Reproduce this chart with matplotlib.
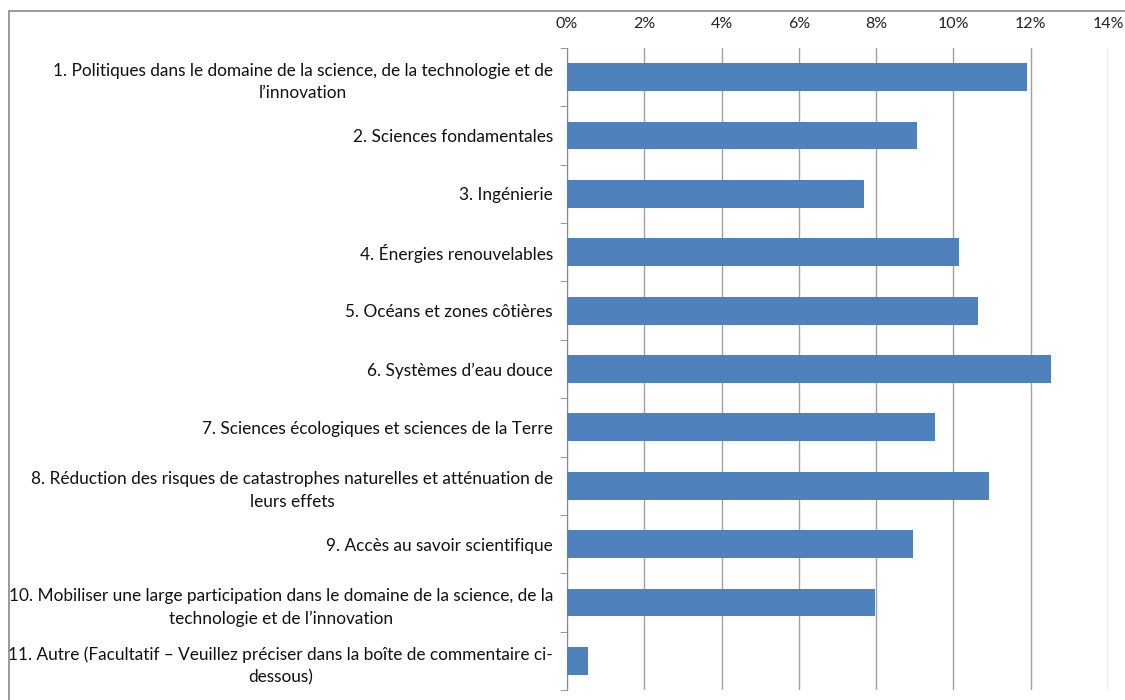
import matplotlib
matplotlib.use("Agg")
import matplotlib.pyplot as plt
import numpy as np
from matplotlib.ticker import FuncFormatter, FixedLocator
from matplotlib.patches import Rectangle

categories = [
    "1. Politiques dans le domaine de la science, de la technologie et de\nl\u2019innovation",
    "2. Sciences fondamentales",
    "3. Ingénierie",
    "4. Énergies renouvelables",
    "5. Océans et zones côtières",
    "6. Systèmes d\u2019eau douce",
    "7. Sciences écologiques et sciences de la Terre",
    "8. Réduction des risques de catastrophes naturelles et atténuation de\nleurs effets",
    "9. Accès au savoir scientifique",
    "10. Mobiliser une large participation dans le domaine de la science, de la\ntechnologie et de l\u2019innovation",
    "11. Autre (Facultatif \u2013 Veuillez préciser dans la boîte de commentaire ci-\ndessous)",
]
values = [11.9, 9.06, 7.68, 10.14, 10.63, 12.52, 9.52, 10.92, 8.95, 7.97, 0.54]
xticks = [0, 2, 4, 6, 8, 10, 12, 14]

plt.rcParams['font.family'] = ['Lato', 'DejaVu Sans']

fig = plt.figure(figsize=(11.25, 7), dpi=100)
ax = fig.add_axes([567/1125, 1-690/700, (1108-567)/1125, (690-48)/700])

n = len(categories)
y = np.arange(n)
ax.barh(y, values, height=0.476, color='#4F81BD', zorder=3)
ax.set_ylim(n-0.5, -0.5)
ax.set_xlim(0, 14)

ax.xaxis.tick_top()
ax.set_xticks(xticks)
ax.xaxis.set_major_formatter(FuncFormatter(lambda v, p: f"{int(v)}%"))
ax.tick_params(axis='x', length=0, pad=12, labelsize=11.5, labelcolor='#222222')
ax.grid(axis='x', color='#A0A0A0', linewidth=1, zorder=0)

ax.set_yticks(y)
ax.set_yticklabels(categories)
ax.yaxis.set_minor_locator(FixedLocator(np.arange(-0.5, n, 1)))
ax.tick_params(axis='y', which='major', length=0, pad=10, labelsize=12.4, labelcolor='#111111')
ax.tick_params(axis='y', which='minor', length=5, color='#888888', direction='out')
for lab in ax.get_yticklabels():
    lab.set_multialignment('center')
    lab.set_linespacing(1.5)

for s in ['top', 'right', 'bottom']:
    ax.spines[s].set_visible(False)
ax.spines['left'].set_color('#888888')

fig.patches.append(Rectangle((9/1125, -0.5), 2, 1.5 - 11/700, transform=fig.transFigure,
                             fill=False, edgecolor='#888888', linewidth=1.2))

fig.savefig("out.png", dpi=100)
